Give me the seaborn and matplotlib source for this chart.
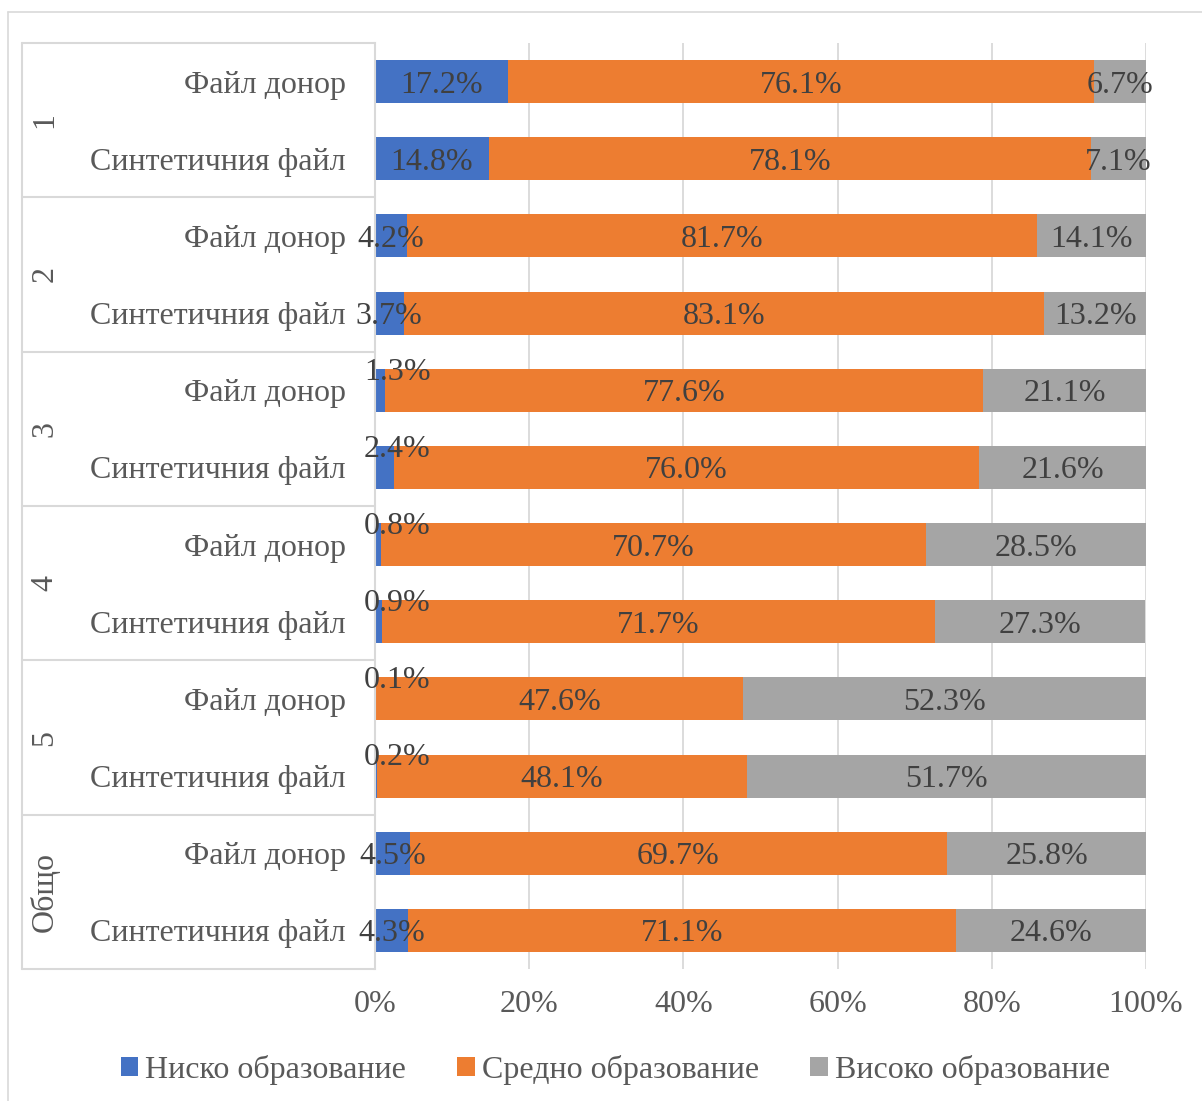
import numpy as np
import pandas as pd
import matplotlib
matplotlib.use("Agg")
import matplotlib.pyplot as plt
import matplotlib.transforms as mtrans
from matplotlib.patches import Patch
from matplotlib.lines import Line2D
import seaborn as sns

# ---- data ----
groups = ["1", "2", "3", "4", "5", "Общо"]
items = ["Файл донор", "Синтетичния файл"]
low = [17.2, 14.8, 4.2, 3.7, 1.3, 2.4, 0.8, 0.9, 0.1, 0.2, 4.5, 4.3]
mid = [76.1, 78.1, 81.7, 83.1, 77.6, 76.0, 70.7, 71.7, 47.6, 48.1, 69.7, 71.1]
high = [6.7, 7.1, 14.1, 13.2, 21.1, 21.6, 28.5, 27.3, 52.3, 51.7, 25.8, 24.6]
series_names = ["Ниско образование", "Средно образование", "Високо образование"]
xticks = [0, 20, 40, 60, 80, 100]

# ---- style ----
sns.set_style("white")
plt.rcParams["font.family"] = ["Liberation Serif", "DejaVu Serif"]
FS = 23
TXT = "#595959"
LBL = "#404040"
LINE = "#D9D9D9"
C_LOW, C_MID, C_HIGH = "#4472C4", "#ED7D31", "#A5A5A5"

keys = [f"{g}|{it}" for g in groups for it in items]
low_a = np.array(low)
mid_a = np.array(mid)
high_a = np.array(high)
df = pd.DataFrame({
    "key": keys,
    "low": low_a,
    "lowmid": low_a + mid_a,
    "total": low_a + mid_a + high_a,
})

W, H = 1202, 1101
fig = plt.figure(figsize=(W / 100, H / 100), dpi=100)
ax_l, ax_r, ax_t, ax_b = 375, 1146, 43, 969
ax = fig.add_axes([ax_l / W, 1 - ax_b / H, (ax_r - ax_l) / W, (ax_b - ax_t) / H])

bw = 0.557
for col, c in [("total", C_HIGH), ("lowmid", C_MID), ("low", C_LOW)]:
    sns.barplot(data=df, x=col, y="key", orient="h", color=c, saturation=1,
                width=bw, errorbar=None, linewidth=0, ax=ax)

ax.set_xlim(0, 100)
ax.set_ylim(len(keys) - 0.5, -0.5)
ax.set_xticks(xticks)
ax.set_xticklabels([f"{t}%" for t in xticks], fontsize=FS, color=TXT)
ax.set_yticks(range(len(keys)))
ax.set_yticklabels([it for g in groups for it in items], fontsize=FS, color=TXT)
for lab in ax.get_yticklabels():
    lab.set_verticalalignment("center_baseline")
ax.tick_params(axis="y", length=0, pad=21)
ax.tick_params(axis="x", length=0, pad=15)
ax.set_xlabel("")
ax.set_ylabel("")
ax.grid(axis="x", color=LINE, lw=1.3)
ax.grid(axis="y", visible=False)
ax.set_axisbelow(True)
for s in ["top", "right", "bottom"]:
    ax.spines[s].set_visible(False)
ax.spines["left"].set_color(LINE)
ax.spines["left"].set_linewidth(1.5)
ax.spines["left"].set_zorder(5)

# data labels
for i in range(len(keys)):
    segs = [(0, low_a[i]), (low_a[i], mid_a[i]), (low_a[i] + mid_a[i], high_a[i])]
    for start, v in segs:
        x = start + v / 2
        y = i
        if v < 3:
            x = max(x, 2.9)
            y = i - 0.28
        ax.text(x, y, f"{v:.1f}%", ha="center", va="center_baseline", fontsize=FS,
                color=LBL, zorder=10)

# category table on the left
tr = mtrans.blended_transform_factory(ax.transAxes, ax.transData)
xl = (22 - ax_l) / (ax_r - ax_l)
for k in range(len(groups) + 1):
    yy = 2 * k - 0.5
    ax.add_line(Line2D([xl, 0], [yy, yy], transform=tr, color=LINE, lw=1.5,
                       clip_on=False))
ax.add_line(Line2D([xl, xl], [-0.5, len(keys) - 0.5], transform=tr, color=LINE,
                   lw=1.5, clip_on=False))
xg = (45 - ax_l) / (ax_r - ax_l)
for k, g in enumerate(groups):
    ax.text(xg, 2 * k + 0.5, g, transform=tr, rotation=90, ha="center",
            va="center", fontsize=FS, color=TXT)

# legend
handles = [Patch(facecolor=c, edgecolor="none") for c in (C_LOW, C_MID, C_HIGH)]
fig.legend(handles, series_names, loc="center", bbox_to_anchor=(0.512, 1 - 1070 / H),
           ncol=3, frameon=False, fontsize=FS, labelcolor=TXT,
           handlelength=0.55, handleheight=0.55, handletextpad=0.22,
           columnspacing=1.6)

# outer chart border
fig.add_artist(Line2D([8 / W, 8 / W], [0, 1 - 12 / H], transform=fig.transFigure,
                      color=LINE, lw=1.2))
fig.add_artist(Line2D([8 / W, 1], [1 - 12 / H, 1 - 12 / H], transform=fig.transFigure,
                      color=LINE, lw=1.2))

fig.savefig("out.png", dpi=100, facecolor="white")
